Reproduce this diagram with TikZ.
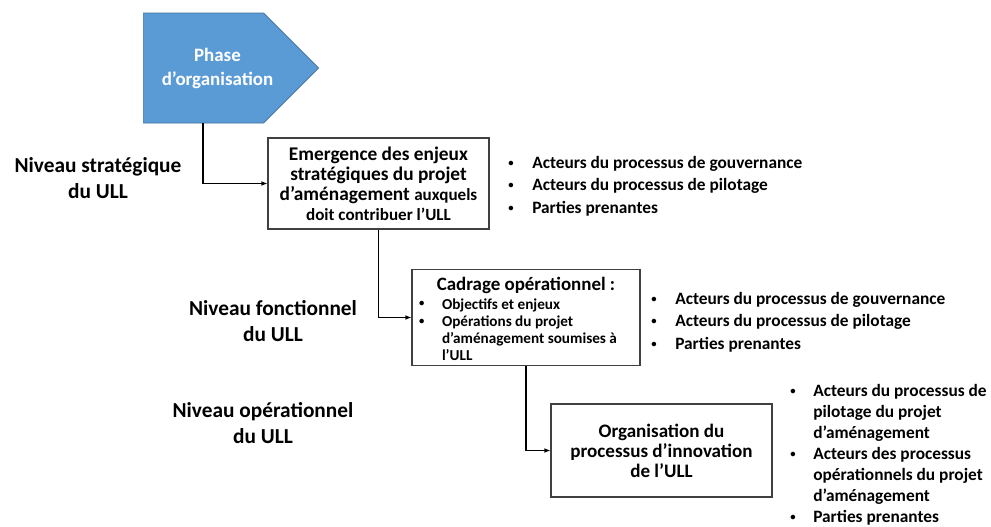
\documentclass[tikz,border=0pt]{standalone}
\usepackage{fontspec}
\setmainfont{Carlito}
\usetikzlibrary{shapes.symbols,arrows.meta}
\definecolor{bleu}{HTML}{5B9BD5}
\definecolor{bleufonce}{HTML}{41719C}
\newcommand{\taille}[2]{\fontsize{#1}{#2}\selectfont}
\newcommand{\puce}{\raisebox{1.6pt}{\fontsize{8}{8}\selectfont •}}
\newcommand{\decale}[1]{\kern10.5pt#1\kern-10.5pt}

\begin{document}
\begin{tikzpicture}[x=0.75pt,y=-0.75pt,font=\bfseries,
  boite/.style={draw=black!75, line width=0.8pt, fill=white, align=center, inner sep=0pt},
  niveau/.style={align=center, font=\bfseries\taille{16}{19.5}},
  liste/.style={anchor=north west, inner sep=0pt, align=left, font=\bfseries\taille{13}{17}},
  phase/.style={signal, signal to=east, fill=bleu, draw=bleufonce, line width=0.5pt,
        text=white, align=center, minimum width=131.25pt, minimum height=82.5pt,
        font=\bfseries\taille{14.2}{18}},
  fleche/.style={draw=black, line width=0.8pt, -{Latex[length=4.5pt,width=3.5pt]}},
]
  \useasboundingbox (0,0) rectangle (991,526);
  \node[phase, anchor=west] (phase) at (143,68) {\decale{Phase}\\\decale{d’organisation}};
  \coordinate (depart) at ([xshift=45pt]phase.south west);
  \node[boite, minimum width=165.75pt, minimum height=68.25pt, font=\bfseries\taille{14.5}{15}] (strat) at (378.5,183.5)
    {Emergence des enjeux\\stratégiques du projet\\d’aménagement {\taille{12.8}{15}auxquels}\\{\taille{12.8}{15}doit contribuer l’ULL}};
  \node[boite, minimum width=171pt, minimum height=68.25pt, font=\bfseries\taille{11.4}{12.9}] (ops) at (526,317.5)
    {\begin{tabular}{@{}p{17.25pt}@{}p{143.25pt}@{}}\multicolumn{2}{@{}c@{}}{\rule{0pt}{16pt}\taille{14.2}{15}Cadrage opérationnel :}\\[1pt]
     \puce&Objectifs et enjeux\\\puce&Opérations du projet\\&d’aménagement soumises à\\&l’ULL\end{tabular}};
  \node[boite, minimum width=165.75pt, minimum height=69.75pt, font=\bfseries\taille{14.3}{15}] (innov) at (661.5,450.5)
    {Organisation du\\processus d’innovation\\de l’ULL};
  \draw[fleche] (depart) |- (strat.west);
  \draw[fleche] (strat.south) |- (ops.west);
  \draw[fleche] (ops.south) |- (innov.west);
  \node[niveau] (nstrat) at (98,178) {Niveau stratégique\\du ULL};
  \node[niveau] (nfonc) at (273,321) {Niveau fonctionnel\\du ULL};
  \node[niveau] (nop) at (263,423) {Niveau opérationnel\\du ULL};
  \node[liste] (acteurs1) at (508,152) {\begin{tabular}{@{}p{18pt}@{}l@{}}\puce&Acteurs du processus de gouvernance\\\puce&Acteurs du processus de pilotage\\\puce&Parties prenantes\end{tabular}};
  \node[liste] (acteurs2) at (651,288) {\begin{tabular}{@{}p{18pt}@{}l@{}}\puce&Acteurs du processus de gouvernance\\\puce&Acteurs du processus de pilotage\\\puce&Parties prenantes\end{tabular}};
  \node[liste, font=\bfseries\taille{13}{15.75}] (acteurs3) at (790,381.5) {\begin{tabular}{@{}p{17.25pt}@{}l@{}}\puce&Acteurs du processus de\\&pilotage du projet\\&d’aménagement\\\puce&Acteurs des processus\\&opérationnels du projet\\&d’aménagement\\\puce&Parties prenantes\end{tabular}};
\end{tikzpicture}
\end{document}
